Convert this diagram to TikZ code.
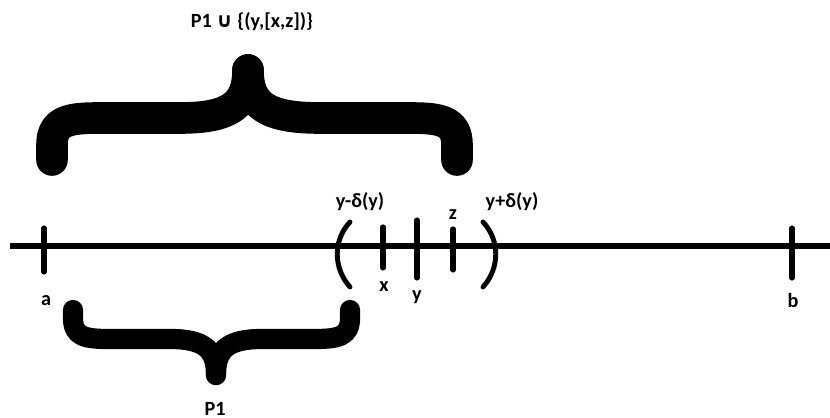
\documentclass[tikz,border=0pt]{standalone}
\usepackage{fontspec}
\setmainfont{Carlito}
\newfontfamily\symfont{DejaVu Sans}
\usetikzlibrary{positioning}

\begin{document}
\begin{tikzpicture}[
    x=0.02cm, y=-0.02cm,
    every node/.style={font=\bfseries\fontsize{11.5}{13}\selectfont, inner sep=0pt},
    axis/.style={line width=3.4pt},
    tick/.style={line width=2.9pt, line cap=round},
    paren/.style={line width=2.8pt, line cap=round},
    bigbrace/.style={line width=18pt, line cap=round, line join=round},
    smallbrace/.style={line width=11.5pt, line cap=round, line join=round},
    label/.style={}
]
\useasboundingbox (0,0) rectangle (830,418);

% ============ NUMBER LINE ============
\coordinate (start) at (10,246);
\coordinate (end) at (830,246);
\draw[axis] (start) -- (end);

% Ticks
\draw[tick] (44,228) -- (44,272);
\draw[tick] (383,227) -- (383,268);
\draw[tick] (417,220) -- (417,278);
\draw[tick] (453,229) -- (453,270);
\draw[tick] (792,228) -- (792,278);

% Interval around y
\draw[paren] (350,222) .. controls (333,240) and (333,268) .. (350,287);
\draw[paren] (483,222) .. controls (500,240) and (500,268) .. (483,287);

% Point labels
\node[label] (a) at (46,301) {a};
\node[label] (b) at (793,300) {b};
\node[label] (x) at (384,287) {x};
\node[label] (y) at (417,297) {y};
\node[label] (z) at (453,215) {z};
\node[label] (ylow) at (360,202) {y-δ(y)};
\node[label] (yhigh) at (512,202) {y+δ(y)};

% ============ TOP BRACE ============
\draw[bigbrace] (52,160) -- (52,145) .. controls (52,120) and (70,118) .. (100,118)
    -- (180,118) .. controls (230,118) and (248,105) .. (248,70);
\draw[bigbrace] (457,160) -- (457,145) .. controls (457,120) and (439,118) .. (409,118)
    -- (320,118) .. controls (266,118) and (248,105) .. (248,70);
\node[label] (union) at (252,22) {P1 {\symfont ∪} \{(y,[x,z])\}};

% ============ BOTTOM BRACE ============
\draw[smallbrace] (73,310) -- (73,318) .. controls (73,337) and (85,339) .. (110,339)
    -- (170,339) .. controls (205,339) and (216,350) .. (216,375);
\draw[smallbrace] (350,310) -- (350,318) .. controls (350,337) and (338,339) .. (313,339)
    -- (262,339) .. controls (227,339) and (216,350) .. (216,375);
\node[label] (p1) at (215,409) {P1};

\end{tikzpicture}
\end{document}
